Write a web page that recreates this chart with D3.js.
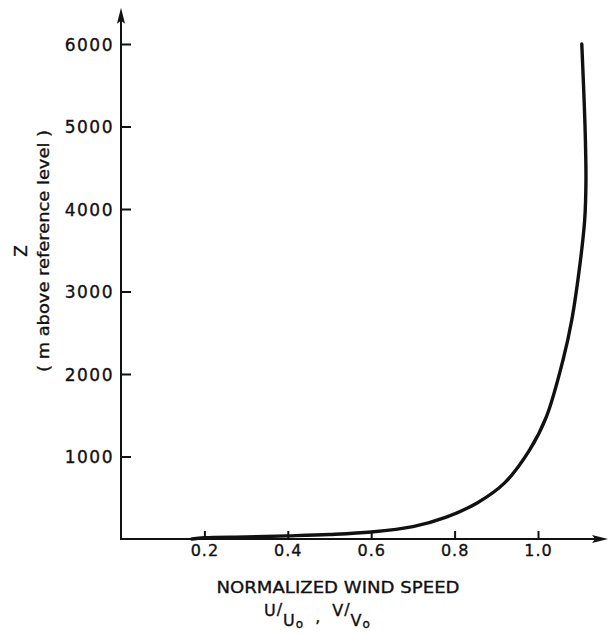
<!DOCTYPE html>
<html>
<head>
<meta charset="utf-8">
<script src="https://cdn.jsdelivr.net/npm/d3@7"></script>
<style>
  body { margin: 0; background: #fff; }
  svg text { font-family: "DejaVu Sans", sans-serif; fill: #111; stroke: #111; stroke-width: 0.35px; }
  .axis path.domain { display: none; }
  .axis line { stroke: #111; stroke-width: 2px; }
</style>
</head>
<body>
<div id="chart"></div>
<script>
// wind speed profile
var speed  = [0.17, 0.2, 0.3, 0.4, 0.5, 0.6, 0.7, 0.78, 0.855, 0.92, 0.98, 1.02, 1.06, 1.081, 1.101, 1.112, 1.115, 1.113, 1.105];
var height = [0, 15, 25, 38, 55, 85, 150, 265, 440, 680, 1080, 1480, 2170, 2655, 3345, 3870, 4350, 4960, 6000];

var xTicks = [0.2, 0.4, 0.6, 0.8, 1.0];
var yTicks = [1000, 2000, 3000, 4000, 5000, 6000];

var W = 610, H = 633;

var data = speed.map((d, i) => ({v: d, z: height[i]}));

var x = d3.scaleLinear().domain([0, 1.0]).range([121, 538]);
var y = d3.scaleLinear().domain([0, 6000]).range([539, 44]);

var svg = d3.select("#chart").append("svg")
    .attr("width", W)
    .attr("height", H);

// axis lines with arrow heads
var x0 = x(0), y0 = y(0), xEnd = x(1.168), yEnd = y(6440);
svg.append("line")
    .attr("x1", x0).attr("y1", y0).attr("x2", xEnd - 6).attr("y2", y0)
    .style("stroke", "#111").style("stroke-width", 2);
svg.append("line")
    .attr("x1", x0).attr("y1", y0 + 1).attr("x2", x0).attr("y2", yEnd + 6)
    .style("stroke", "#111").style("stroke-width", 2);
svg.append("path")
    .attr("d", "M" + xEnd + "," + y0 + "L" + (xEnd - 16) + "," + (y0 - 4) + "L" + (xEnd - 13) + "," + y0 + "L" + (xEnd - 16) + "," + (y0 + 4) + "Z")
    .style("fill", "#111");
svg.append("path")
    .attr("d", "M" + x0 + "," + yEnd + "L" + (x0 - 4) + "," + (yEnd + 16) + "L" + x0 + "," + (yEnd + 13) + "L" + (x0 + 4) + "," + (yEnd + 16) + "Z")
    .style("fill", "#111");

// y axis ticks (pointing inward)
var yAxis = svg.append("g")
    .attr("class", "axis")
    .attr("transform", "translate(" + x0 + ",0)")
    .call(d3.axisLeft(y).tickValues(yTicks).tickSizeInner(-10).tickSizeOuter(0).tickPadding(7).tickFormat(d3.format("d")));
yAxis.selectAll("text")
    .style("font-size", "17px")
    .style("letter-spacing", "1.5px")
    .attr("dy", "0.36em");

// x axis ticks
var xAxis = svg.append("g")
    .attr("class", "axis")
    .attr("transform", "translate(0," + y0 + ")")
    .call(d3.axisBottom(x).tickValues(xTicks).tickSizeInner(-8).tickSizeOuter(0).tickPadding(6).tickFormat(d3.format(".1f")));
xAxis.selectAll("text")
    .style("font-size", "16px")
    .style("letter-spacing", "1px");

// the profile curve
var line = d3.line()
    .x(d => x(d.v))
    .y(d => y(d.z))
    .curve(d3.curveCatmullRom.alpha(0.5));

svg.append("path")
    .datum(data)
    .attr("d", line)
    .style("fill", "none")
    .style("stroke", "#111")
    .style("stroke-width", 3.4)
    .style("stroke-linecap", "round");

// axis titles
svg.append("text")
    .attr("x", 338).attr("y", 593)
    .attr("text-anchor", "middle")
    .attr("textLength", 243)
    .attr("lengthAdjust", "spacingAndGlyphs")
    .style("font-size", "16px")
    .text("NORMALIZED WIND SPEED");

var sub = svg.append("text")
    .attr("x", 264).attr("y", 616)
    .style("font-size", "16px");
sub.append("tspan").text("U");
sub.append("tspan").attr("dx", 1).attr("dy", -1).text("/");
sub.append("tspan").attr("dx", 1).attr("dy", 11).text("U");
sub.append("tspan").attr("dx", 1).attr("dy", 2).style("font-size", "12px").text("o");
sub.append("tspan").attr("dx", 12).attr("dy", -6).text(",");
sub.append("tspan").attr("dx", 12).attr("dy", -6).text("V");
sub.append("tspan").attr("dx", 1).attr("dy", -1).text("/");
sub.append("tspan").attr("dx", 1).attr("dy", 11).text("V");
sub.append("tspan").attr("dx", 1).attr("dy", 2).style("font-size", "12px").text("o");

svg.append("text")
    .attr("transform", "translate(27,251) rotate(-90)")
    .attr("text-anchor", "middle")
    .style("font-size", "17px")
    .text("Z");

svg.append("text")
    .attr("transform", "translate(49,251) rotate(-90)")
    .attr("text-anchor", "middle")
    .attr("textLength", 242)
    .attr("lengthAdjust", "spacingAndGlyphs")
    .style("font-size", "16px")
    .text("( m  above reference level )");
</script>
</body>
</html>
